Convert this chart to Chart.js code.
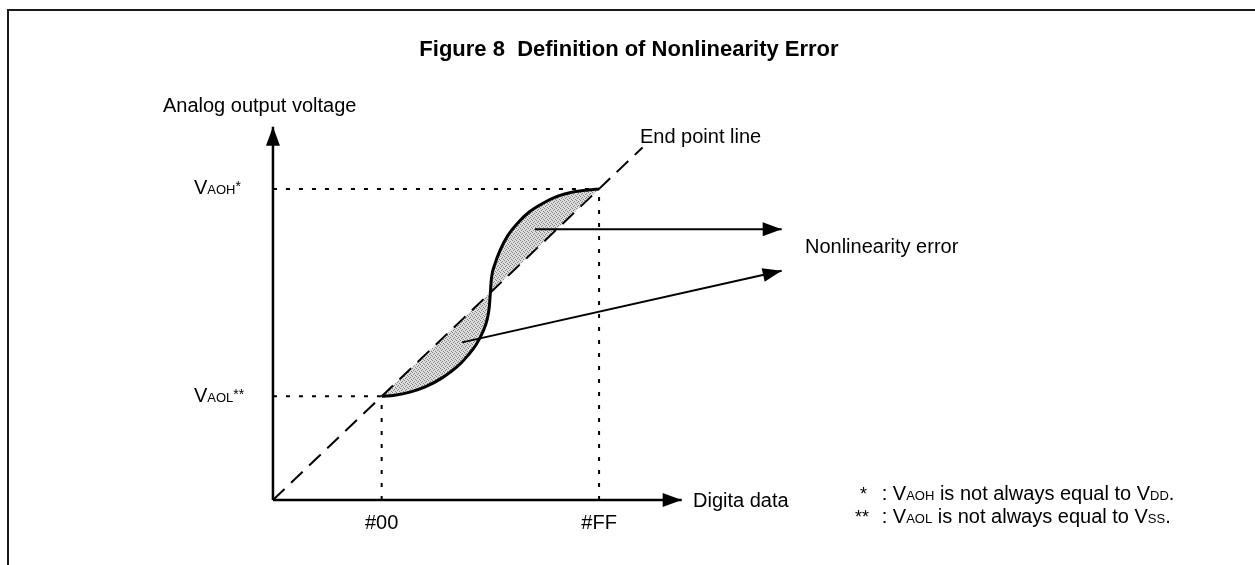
<!DOCTYPE html>
<html>
<head>
<meta charset="utf-8">
<title>Figure 8 Definition of Nonlinearity Error</title>
<script src="https://cdn.jsdelivr.net/npm/chart.js"></script>
<style>
  body { margin: 0; background: #fff; }
  #wrap { position: relative; width: 1255px; height: 565px; }
  #frame {
    position: absolute; left: 7px; top: 9px; right: 0; bottom: 0;
    border-top: 2px solid #1a1a1a; border-left: 2px solid #1a1a1a;
    pointer-events: none;
  }
</style>
</head>
<body>
<div id="wrap"><canvas id="chart"></canvas><div id="frame"></div></div>
<script>
const curveX = [1.00, 1.12, 1.26, 1.40, 1.56, 1.70, 1.79, 1.87, 1.93, 1.97, 1.99, 2.00,
                2.01, 2.04, 2.09, 2.16, 2.25, 2.36, 2.48, 2.62, 2.76, 2.90, 3.00];
const curveY = [1.00, 1.01, 1.04, 1.09, 1.18, 1.29, 1.39, 1.50, 1.62, 1.74, 1.86, 2.00,
                2.14, 2.27, 2.41, 2.55, 2.67, 2.78, 2.86, 2.93, 2.97, 2.99, 3.00];

// End point line (dashed) and the part of it between #00 and #FF
const endLineX = [0, 3.4];
const endLineY = [0, 3.4];
const endSegX = [1, 3];
const endSegY = [1, 3];

// Codes and output levels
const xTickValues = [1, 3];
const xTickLabels = ['#00', '#FF'];
const yTickValues = [1, 3];          // VAOL, VAOH

// Axes (with arrow heads)
const xAxisEnd = 3.76;
const yAxisEnd = 3.60;

// "Nonlinearity error" pointers: [startX, startY, endX, endY]
const pointerUpper = [2.41, 2.61, 4.68, 2.61];
const pointerLower = [1.74, 1.52, 4.68, 2.21];

function pts(xs, ys) { return xs.map((x, i) => ({ x: x, y: ys[i] })); }

// grey stipple used for the error area
function stipple() {
  const c = document.createElement('canvas');
  c.width = 4; c.height = 4;
  const g = c.getContext('2d');
  g.fillStyle = '#dedede'; g.fillRect(0, 0, 4, 4);
  g.fillStyle = '#808080';
  [[0, 0], [2, 1], [1, 2], [3, 3]].forEach(p => g.fillRect(p[0], p[1], 1, 1));
  return g.createPattern(c, 'repeat');
}

const FONT = '"Liberation Sans", Arial, Helvetica, sans-serif';
const dotted = [4, 9];

// text pieces: [text, size, rise]
const labels = [
  { at: [3.275, 4.282], align: 'center', bold: true, parts: [['Figure 8  Definition of Nonlinearity Error', 22, 0]] },
  { at: [-1.012, 3.742], parts: [['Analog output voltage', 20, 0]] },
  { at: [-0.727, yTickValues[1] - 0.05], parts: [['V', 20, 0], ['AOH', 13, 0], ['*', 14, -3]] },
  { at: [-0.727, yTickValues[0] - 0.055], parts: [['V', 20, 0], ['AOL', 13, 0], ['**', 14, -3]] },
  { at: [xTickValues[0], -0.28], align: 'center', parts: [[xTickLabels[0], 20, 0]] },
  { at: [xTickValues[1], -0.28], align: 'center', parts: [[xTickLabels[1], 20, 0]] },
  { at: [3.864, -0.068], parts: [['Digita data', 20, 0]] },
  { at: [3.376, 3.443], parts: [['End point line', 20, 0]] },
  { at: [4.894, 2.382], parts: [['Nonlinearity error', 20, 0]] },
  { at: [5.40, 0.0], parts: [['*', 18, 0]] },
  { at: [5.60, 0.0], parts: [[': V', 20, 0], ['AOH', 13, 0], [' is not always equal to V', 20, 0], ['DD', 13, 0], ['.', 20, 0]] },
  { at: [5.355, -0.222], parts: [['**', 18, 0]] },
  { at: [5.60, -0.222], parts: [[': V', 20, 0], ['AOL', 13, 0], [' is not always equal to V', 20, 0], ['SS', 13, 0], ['.', 20, 0]] }
];

const labelPlugin = {
  id: 'figureText',
  afterDatasetsDraw(chart) {
    const ctx = chart.ctx, sx = chart.scales.x, sy = chart.scales.y;
    ctx.save();
    ctx.fillStyle = '#000';
    ctx.textBaseline = 'alphabetic';
    labels.forEach(l => {
      const w = l.parts.reduce((s, p) => {
        ctx.font = (l.bold ? 'bold ' : '') + p[1] + 'px ' + FONT;
        return s + ctx.measureText(p[0]).width;
      }, 0);
      let x = sx.getPixelForValue(l.at[0]);
      const y = sy.getPixelForValue(l.at[1]);
      if (l.align === 'center') x -= w / 2;
      l.parts.forEach(p => {
        ctx.font = (l.bold ? 'bold ' : '') + p[1] + 'px ' + FONT;
        ctx.textAlign = 'left';
        ctx.fillText(p[0], x, y + p[2]);
        x += ctx.measureText(p[0]).width;
      });
    });
    ctx.restore();
  }
};

const arrowPlugin = {
  id: 'arrowHeads',
  afterDatasetsDraw(chart) {
    const ctx = chart.ctx;
    chart.data.datasets.forEach((ds, i) => {
      if (!ds.arrowHead) return;
      const p = chart.getDatasetMeta(i).data;
      const a = p[p.length - 2], b = p[p.length - 1];
      const ang = Math.atan2(b.y - a.y, b.x - a.x);
      ctx.save();
      ctx.translate(b.x, b.y);
      ctx.rotate(ang);
      ctx.beginPath();
      ctx.moveTo(0, 0);
      ctx.lineTo(-19, -7);
      ctx.lineTo(-19, 7);
      ctx.closePath();
      ctx.fillStyle = '#000';
      ctx.fill();
      ctx.restore();
    });
  }
};

const base = { borderColor: '#000', pointRadius: 0, fill: false, tension: 0, order: 0 };

new Chart(document.getElementById('chart'), {
  type: 'line',
  data: {
    datasets: [
      Object.assign({}, base, {
        label: 'Output', data: pts(curveX, curveY), borderWidth: 3,
        cubicInterpolationMode: 'monotone', backgroundColor: stipple(),
        fill: { target: 1 }, order: 10
      }),
      Object.assign({}, base, {
        label: 'Ideal', data: pts(endSegX, endSegY), borderWidth: 0,
        borderColor: 'rgba(0,0,0,0)', order: 11
      }),
      Object.assign({}, base, {
        label: 'End point line', data: pts(endLineX, endLineY), borderWidth: 2, borderDash: [16, 9]
      }),
      Object.assign({}, base, {
        label: 'VAOH', data: pts([0, xTickValues[1]], [yTickValues[1], yTickValues[1]]), borderWidth: 2, borderDash: dotted
      }),
      Object.assign({}, base, {
        label: 'VAOL', data: pts([0, xTickValues[0]], [yTickValues[0], yTickValues[0]]), borderWidth: 2, borderDash: dotted
      }),
      Object.assign({}, base, {
        label: '#00', data: pts([xTickValues[0], xTickValues[0]], [0, yTickValues[0]]), borderWidth: 2, borderDash: dotted
      }),
      Object.assign({}, base, {
        label: '#FF', data: pts([xTickValues[1], xTickValues[1]], [0, yTickValues[1]]), borderWidth: 2, borderDash: dotted
      }),
      Object.assign({}, base, {
        label: 'x axis', data: pts([0, xAxisEnd], [0, 0]), borderWidth: 2.5, arrowHead: true
      }),
      Object.assign({}, base, {
        label: 'y axis', data: pts([0, 0], [0, yAxisEnd]), borderWidth: 2.5, arrowHead: true
      }),
      Object.assign({}, base, {
        label: 'pointer 1', data: pts([pointerUpper[0], pointerUpper[2]], [pointerUpper[1], pointerUpper[3]]), borderWidth: 2, arrowHead: true
      }),
      Object.assign({}, base, {
        label: 'pointer 2', data: pts([pointerLower[0], pointerLower[2]], [pointerLower[1], pointerLower[3]]), borderWidth: 2, arrowHead: true
      })
    ]
  },
  options: {
    responsive: true,
    maintainAspectRatio: false,
    animation: false,
    events: [],
    layout: { padding: 0 },
    scales: {
      x: { type: 'linear', min: -2.511, max: 9.034, display: false },
      y: { type: 'linear', min: -0.627, max: 4.822, display: false }
    },
    plugins: {
      legend: { display: false },
      tooltip: { enabled: false },
      title: { display: false }
    }
  },
  plugins: [labelPlugin, arrowPlugin]
});
</script>
</body>
</html>
